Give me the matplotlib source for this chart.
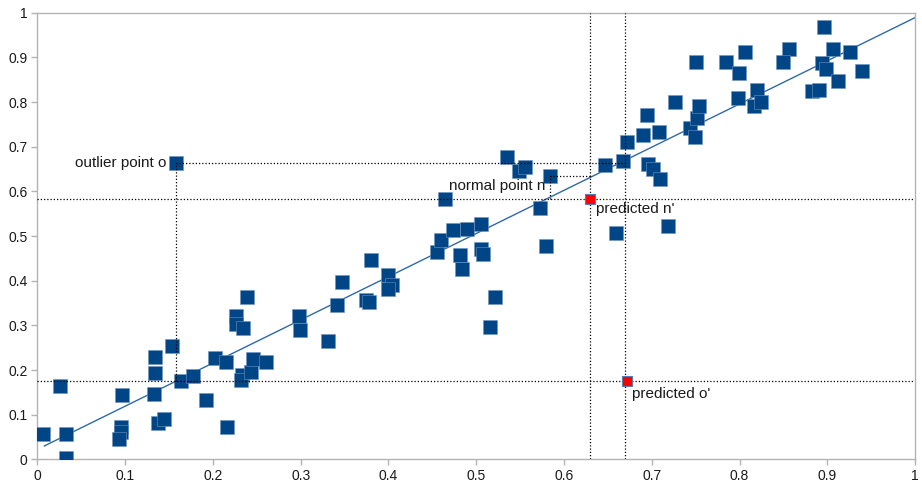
import matplotlib
matplotlib.use("Agg")
import matplotlib.pyplot as plt

plt.rcParams['font.family'] = ['Liberation Sans', 'DejaVu Sans']

# Observed data points (x, y)
pts_x = [0.007, 0.026, 0.033, 0.033, 0.097, 0.095, 0.095, 0.093, 0.134, 0.134,
         0.133, 0.138, 0.144, 0.153, 0.158, 0.164, 0.177, 0.192, 0.202, 0.215,
         0.216, 0.226, 0.226, 0.234, 0.239, 0.233, 0.232, 0.243, 0.246, 0.261,
         0.298, 0.299, 0.331, 0.341, 0.347, 0.380, 0.375, 0.378, 0.399, 0.404,
         0.399, 0.455, 0.460, 0.465, 0.473, 0.490, 0.481, 0.484, 0.505, 0.508,
         0.506, 0.521, 0.516, 0.535, 0.549, 0.556, 0.584, 0.573, 0.579, 0.647,
         0.667, 0.672, 0.690, 0.695, 0.708, 0.726, 0.696, 0.701, 0.709, 0.659,
         0.719, 0.744, 0.749, 0.752, 0.754, 0.798, 0.750, 0.896, 0.856, 0.806,
         0.785, 0.850, 0.799, 0.906, 0.926, 0.894, 0.898, 0.939, 0.912, 0.820,
         0.882, 0.891, 0.816, 0.824]
pts_y = [0.057, 0.165, 0.057, 0.003, 0.145, 0.073, 0.062, 0.045, 0.229, 0.193,
         0.146, 0.081, 0.090, 0.254, 0.663, 0.175, 0.187, 0.133, 0.226, 0.217,
         0.072, 0.321, 0.304, 0.295, 0.364, 0.189, 0.178, 0.196, 0.224, 0.219,
         0.322, 0.290, 0.266, 0.345, 0.398, 0.446, 0.357, 0.352, 0.413, 0.390,
         0.381, 0.465, 0.491, 0.582, 0.513, 0.516, 0.458, 0.426, 0.471, 0.460,
         0.527, 0.364, 0.297, 0.678, 0.646, 0.654, 0.635, 0.563, 0.478, 0.658,
         0.667, 0.711, 0.727, 0.772, 0.732, 0.801, 0.661, 0.651, 0.628, 0.507,
         0.522, 0.742, 0.722, 0.765, 0.790, 0.810, 0.890, 0.967, 0.919, 0.911,
         0.889, 0.890, 0.865, 0.919, 0.911, 0.887, 0.875, 0.870, 0.848, 0.827,
         0.825, 0.826, 0.790, 0.800]

# Regression line end points
fit_x = [0.008, 1.0]
fit_y = [0.030, 0.989]

# Special points
outlier = (0.158, 0.663)
normal = (0.584, 0.635)
pred_x = [0.630, 0.672]
pred_y = [0.582, 0.176]

fig = plt.figure(figsize=(9.22, 4.83), dpi=100)
ax = fig.add_axes([0.0405, 0.049, 0.952, 0.9247])

ax.plot(fit_x, fit_y, color='#2f69a8', lw=1.0, zorder=2)
ax.scatter(pts_x, pts_y, marker='s', s=92, color='#004586',
           edgecolors='#6f93bf', linewidths=0.4, zorder=3)

dot = dict(color='black', lw=0.9, linestyle=(0, (1, 1.6)), zorder=4)
# full-span guide lines
ax.axhline(pred_y[0], **dot)
ax.axhline(pred_y[1], **dot)
ax.axvline(pred_x[0], **dot)
ax.axvline(0.670, **dot)
# projection paths of o and n
ax.plot([outlier[0], outlier[0], 0.670], [pred_y[1], outlier[1], outlier[1]], **dot)
ax.plot([normal[0], normal[0], pred_x[0]], [pred_y[0], normal[1], normal[1]], **dot)

ax.scatter(pred_x, pred_y, marker='s', s=55, color='#ff0000',
           edgecolors='#5a7cb3', linewidths=0.8, zorder=5)

fs = 11
ax.text(0.147, outlier[1], 'outlier point o', ha='right', va='center', fontsize=fs, color='#1a1a1a')
ax.text(0.579, 0.612, 'normal point n', ha='right', va='center', fontsize=fs, color='#1a1a1a')
ax.text(0.636, 0.560, "predicted n'", ha='left', va='center', fontsize=fs, color='#1a1a1a')
ax.text(0.677, 0.146, "predicted o'", ha='left', va='center', fontsize=fs, color='#1a1a1a')

ax.set_xlim(0, 1)
ax.set_ylim(0, 1)
ticks = [0, 0.1, 0.2, 0.3, 0.4, 0.5, 0.6, 0.7, 0.8, 0.9, 1]
tick_labels = ['0', '0.1', '0.2', '0.3', '0.4', '0.5', '0.6', '0.7', '0.8', '0.9', '1']
ax.set_xticks(ticks)
ax.set_xticklabels(tick_labels)
ax.set_yticks(ticks)
ax.set_yticklabels(tick_labels)
ax.tick_params(direction='out', length=4, width=1, color='#b3b3b3',
               labelsize=10, labelcolor='#1a1a1a', pad=3)
for s in ax.spines.values():
    s.set_color('#b3b3b3')
    s.set_linewidth(1)

fig.savefig('out.png', dpi=100)
